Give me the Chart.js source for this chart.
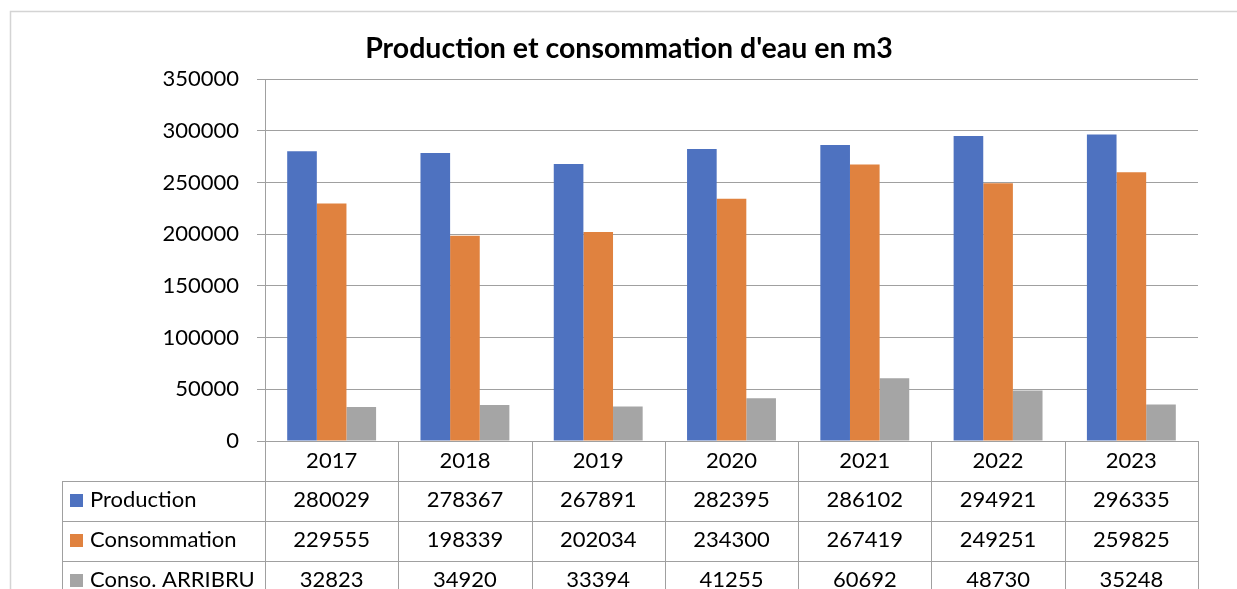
<!DOCTYPE html>
<html>
<head>
<meta charset="utf-8">
<script src="https://cdn.jsdelivr.net/npm/chart.js@4/dist/chart.umd.min.js"></script>
<style>
  html, body { margin: 0; padding: 0; background: #fff; }
  #wrap { width: 1237px; height: 589px; position: relative; }
</style>
</head>
<body>
<div id="wrap"><canvas id="c" width="1237" height="589"></canvas></div>
<script>
const TITLE = "Production et consommation d'eau en m3";
const years = ['2017', '2018', '2019', '2020', '2021', '2022', '2023'];
const production = [280029, 278367, 267891, 282395, 286102, 294921, 296335];
const consommation = [229555, 198339, 202034, 234300, 267419, 249251, 259825];
const consoArribru = [32823, 34920, 33394, 41255, 60692, 48730, 35248];
const seriesNames = ['Production', 'Consommation', 'Conso. ARRIBRU'];
const seriesColors = ['#4E72C0', '#E0823F', '#A5A5A5'];
const yTicks = [0, 50000, 100000, 150000, 200000, 250000, 300000, 350000];

const FONT = 'Lato, "Open Sans", "Liberation Sans", sans-serif';
const LINE = '#A0A0A0';

const tablePlugin = {
  id: 'tablePlugin',
  beforeDraw(chart) {
    const ctx = chart.ctx;
    ctx.save();
    ctx.strokeStyle = '#D4D4D4';
    ctx.lineWidth = 1.5;
    ctx.beginPath();
    ctx.moveTo(10.5, 589);
    ctx.lineTo(10.5, 11.5);
    ctx.lineTo(1237, 11.5);
    ctx.stroke();
    // title
    ctx.fillStyle = '#000';
    ctx.font = 'bold 28.5px ' + FONT;
    ctx.textAlign = 'center';
    ctx.textBaseline = 'middle';
    ctx.fillText(TITLE, 629, 49);
    ctx.restore();
  },
  afterDraw(chart) {
    const ctx = chart.ctx;
    const area = chart.chartArea;
    const xs = chart.scales.x;
    const n = years.length;
    const cw = (area.right - area.left) / n;
    const rowH = 40;
    const top0 = Math.round(area.bottom);
    const rows = [top0, top0 + rowH, top0 + 2 * rowH, top0 + 3 * rowH, top0 + 4 * rowH];
    const tableLeft = 62;
    ctx.save();
    ctx.strokeStyle = LINE;
    ctx.lineWidth = 1;
    ctx.beginPath();
    for (let r = 1; r < rows.length; r++) {
      ctx.moveTo(tableLeft, rows[r] + 0.5);
      ctx.lineTo(area.right, rows[r] + 0.5);
    }
    for (let k = 0; k <= n; k++) {
      const x = Math.round(area.left + k * cw) + 0.5;
      ctx.moveTo(x, top0);
      ctx.lineTo(x, 589);
    }
    ctx.moveTo(tableLeft + 0.5, rows[1]);
    ctx.lineTo(tableLeft + 0.5, 589);
    ctx.stroke();

    const data = [production, consommation, consoArribru];
    ctx.font = '22px ' + FONT;
    ctx.textBaseline = 'middle';
    for (let s = 0; s < data.length; s++) {
      const yMid = rows[s + 1] + rowH / 2 - 1;
      ctx.fillStyle = seriesColors[s];
      ctx.fillRect(70, yMid - 6, 13, 13);
      ctx.fillStyle = '#000';
      ctx.textAlign = 'left';
      ctx.fillText(seriesNames[s], 90, yMid);
      ctx.textAlign = 'center';
      for (let i = 0; i < n; i++) {
        ctx.fillText(String(data[s][i]), xs.getPixelForValue(i), yMid);
      }
    }
    ctx.restore();
  }
};

new Chart(document.getElementById('c'), {
  type: 'bar',
  data: {
    labels: years,
    datasets: [
      { label: seriesNames[0], data: production, backgroundColor: seriesColors[0] },
      { label: seriesNames[1], data: consommation, backgroundColor: seriesColors[1] },
      { label: seriesNames[2], data: consoArribru, backgroundColor: seriesColors[2] }
    ]
  },
  options: {
    responsive: false,
    animation: false,
    devicePixelRatio: 1,
    layout: { padding: { top: 79, right: 39, bottom: 108, left: 0 } },
    datasets: { bar: { categoryPercentage: 0.667, barPercentage: 1.0 } },
    plugins: { legend: { display: false }, title: { display: false }, tooltip: { enabled: false } },
    scales: {
      x: {
        offset: true,
        grid: { display: false, drawTicks: false },
        border: { display: false },
        ticks: { color: '#000', font: { family: FONT, size: 22 }, padding: 7, maxRotation: 0, autoSkip: false },
        afterFit(s) { s.height = 40; }
      },
      y: {
        min: 0,
        max: 350000,
        afterBuildTicks(s) { s.ticks = yTicks.map(v => ({ value: v })); },
        grid: { color: LINE, lineWidth: 1, tickLength: 8, drawTicks: true },
        border: { display: true, color: LINE, width: 1 },
        ticks: { color: '#000', font: { family: FONT, size: 22 }, padding: 18, callback: v => String(v) },
        afterFit(s) { s.width = 265; }
      }
    }
  },
  plugins: [tablePlugin]
});
</script>
</body>
</html>
